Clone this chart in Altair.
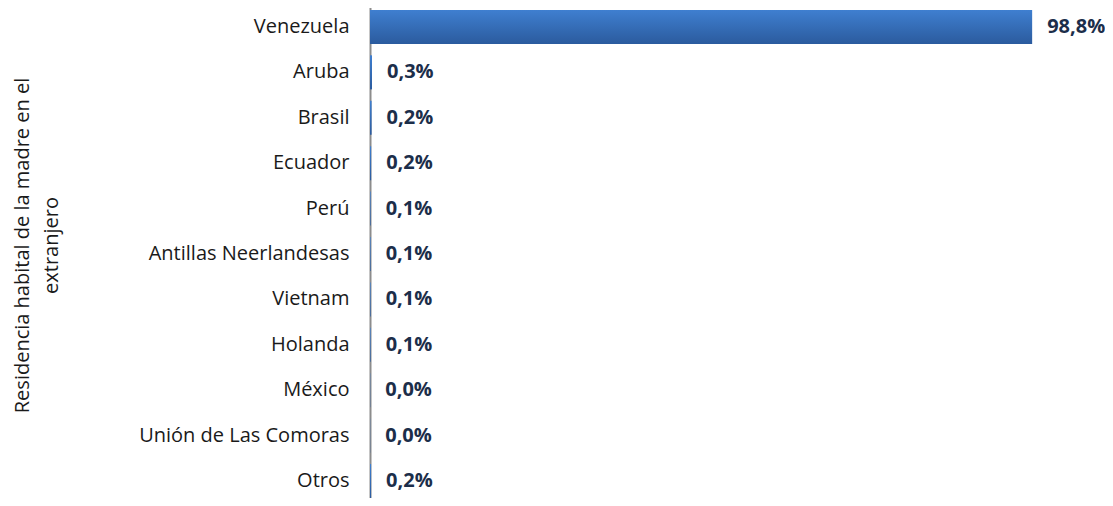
import altair as alt
import pandas as pd

paises = ["Venezuela", "Aruba", "Brasil", "Ecuador", "Perú", "Antillas Neerlandesas",
          "Vietnam", "Holanda", "México", "Unión de Las Comoras", "Otros"]
porcentajes = [98.8, 0.3, 0.24, 0.17, 0.1, 0.1, 0.1, 0.1, 0.04, 0.03, 0.16]

df = pd.DataFrame({"pais": paises, "pct": porcentajes})
df["etiqueta"] = [f"{v:.1f}".replace(".", ",") + "%" for v in porcentajes]

FONT = "Open Sans"

y_enc = alt.Y("pais:N", sort=paises,
              scale=alt.Scale(range=[-4, 496], paddingInner=0.25, paddingOuter=0.13),
              axis=alt.Axis(title=["Residencia habital de la madre en el", "extranjero"],
                            labelFont=FONT, labelFontSize=20, labelColor="#1a1a1a",
                            labelPadding=21, labelLimit=400, ticks=False,
                            domainColor="#8c8c8c", domainWidth=2,
                            titleFont=FONT, titleFontSize=20, titleLimit=600,
                            titleFontWeight="normal", titleColor="#1a1a1a",
                            titleX=-338, titleY=237, titleAngle=-90,
                            titleAlign="center", titleBaseline="bottom",
                            titleLineHeight=29))
x_enc = alt.X("pct:Q", scale=alt.Scale(domain=[0, 104]), axis=None)

bars = alt.Chart(df).mark_bar(
    color=alt.Gradient(gradient="linear", x1=0, x2=0, y1=0, y2=1,
                       stops=[alt.GradientStop(color="#3f7fd0", offset=0),
                              alt.GradientStop(color="#2b5b9e", offset=1)])
).encode(x=x_enc, y=y_enc)

labels = alt.Chart(df).mark_text(
    align="left", baseline="middle", dx=15, font=FONT, fontSize=20,
    fontWeight="bold", color="#1c2e4a"
).encode(x=x_enc, y=alt.Y("pais:N", sort=paises), text="etiqueta:N")

chart = alt.layer(bars, labels).properties(
    width=697, height=490,
    autosize=alt.AutoSizeParams(type="none"),
    padding={"left": 362, "top": 0, "right": 38, "bottom": 0}
).configure_view(stroke=None)

chart.save("out.html", embed_options={"renderer": "svg", "actions": False})
